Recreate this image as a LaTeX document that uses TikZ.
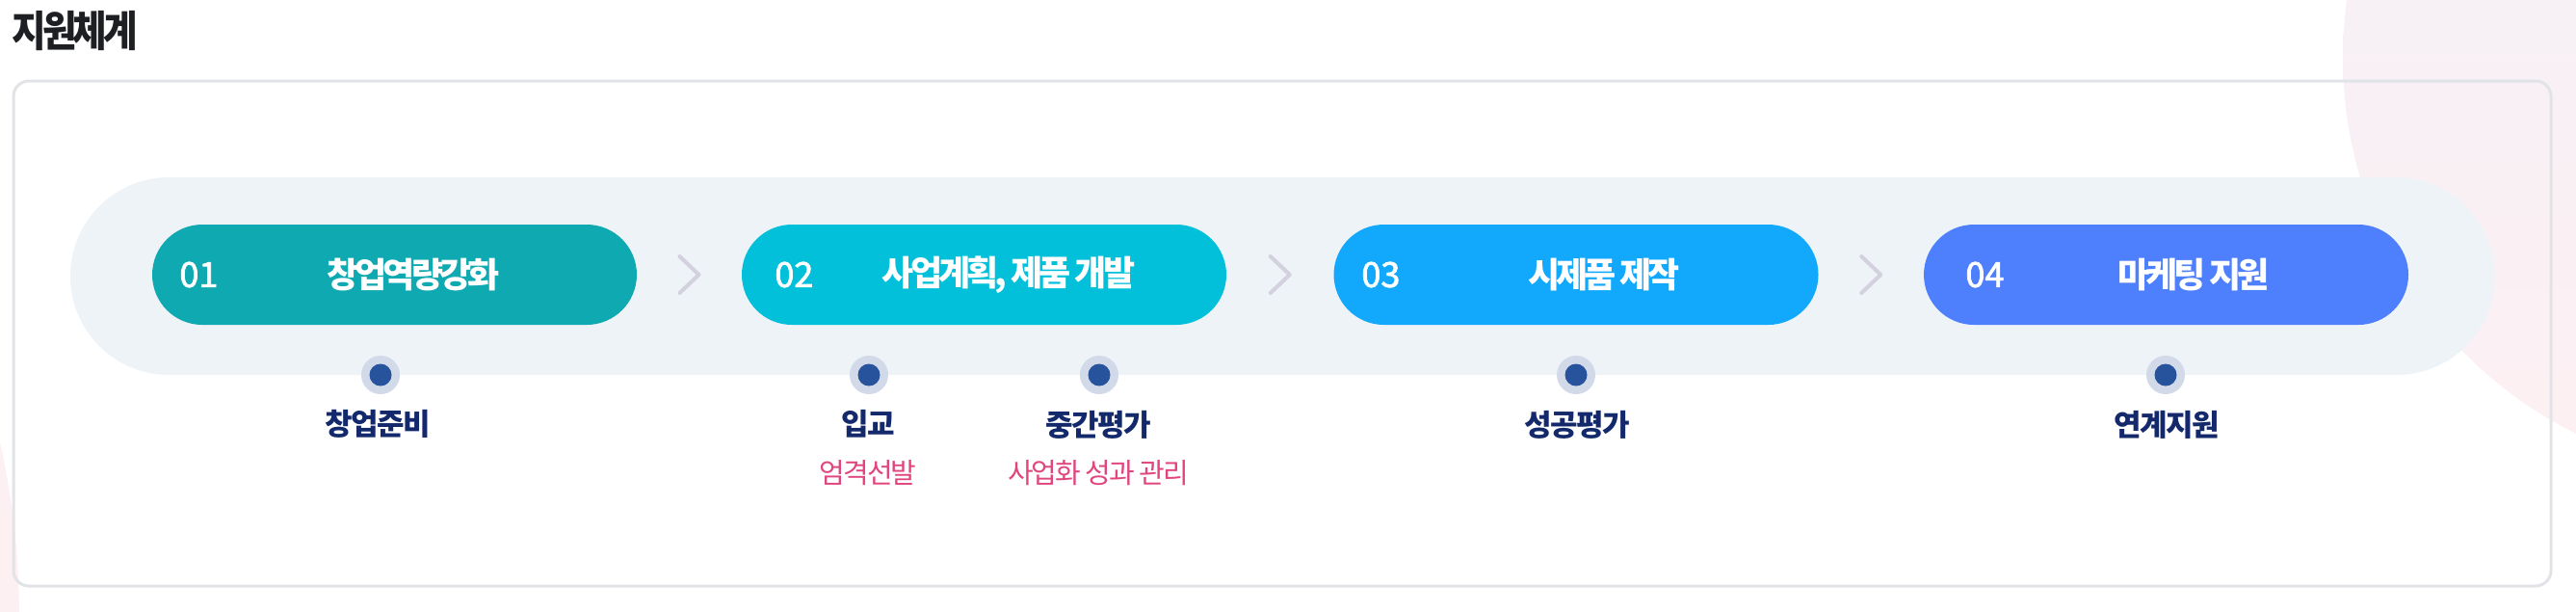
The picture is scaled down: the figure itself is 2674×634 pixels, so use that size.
\documentclass[tikz,border=0pt]{standalone}
\usepackage{fontspec}
\setmainfont{Noto Sans CJK KR}
\usetikzlibrary{calc}
\definecolor{titlec}{HTML}{1E1F23}
\definecolor{boxline}{HTML}{E1E3E6}
\definecolor{bandc}{HTML}{EEF3F8}
\definecolor{pA}{HTML}{0FA9B2}
\definecolor{pB}{HTML}{03C0DA}
\definecolor{pC}{HTML}{12A9FD}
\definecolor{pD}{HTML}{4E80FD}
\definecolor{chevc}{HTML}{D2D1DD}
\definecolor{ringc}{HTML}{D2DAEA}
\definecolor{dotc}{HTML}{27529C}
\definecolor{navyc}{HTML}{14296B}
\definecolor{pinkc}{HTML}{E0457D}
\definecolor{lavc}{HTML}{F2F1F7}
\definecolor{rosec}{HTML}{FDF0F3}
\newcommand\fTitle{\fontsize{22pt}{25pt}\selectfont\bfseries\addfontfeature{FakeStretch=0.88,LetterSpace=-9}}
\newcommand\fPill{\fontsize{18pt}{21pt}\selectfont\bfseries\addfontfeature{LetterSpace=-11}}
\newcommand\fNum{\fontsize{18pt}{21pt}\selectfont\addfontfeature{FakeBold=2}}
\newcommand\fLbl{\fontsize{15.5pt}{18pt}\selectfont\bfseries\addfontfeature{LetterSpace=-5}}
\newcommand\fSub{\fontsize{14.5pt}{17pt}\selectfont\addfontfeature{LetterSpace=-7}}
\tikzset{
  pill/.style={rectangle, rounded corners=26pt, minimum width=251.5pt, minimum height=52pt, inner sep=0pt, draw=none},
  pillnum/.style={anchor=west, inner sep=0pt, text=white, font=\fNum},
  pilltxt/.style={inner sep=0pt, text=white, font=\fPill},
  ringdot/.style={circle, fill=ringc, minimum size=20pt, inner sep=0pt},
  coredot/.style={circle, fill=dotc, minimum size=11.5pt, inner sep=0pt},
  lbl/.style={inner sep=0pt, text=navyc, font=\fLbl},
  sublbl/.style={inner sep=0pt, text=pinkc, font=\fSub},
  chev/.style={draw=chevc, line width=2pt, line cap=round, line join=round},
}
\begin{document}
\begin{tikzpicture}[x=0.5pt,y=-0.5pt]
\useasboundingbox (0,0) rectangle (2674,634);
\fill[white] (0,0) rectangle (2674,634);
% background decorations
\begin{scope}
\clip (0,0) rectangle (2674,634);
\shade[top color=lavc, bottom color=rosec] (2867,60) circle (435);
\fill[rosec] (-800,640) circle (820);
\end{scope}
% title
\node[anchor=west, inner sep=0pt, text=titlec, font=\fTitle] (title) at (12,32) {지원체계};
% outer box
\draw[boxline, line width=1.5pt, rounded corners=8pt] (14,84) rectangle (2648,608);
% band
\fill[bandc, rounded corners=51.25pt] (73,184) rectangle (2590,389);
% pills
\node[pill, fill=pA] (p1) at (409.5,285) {};
\node[pill, fill=pB] (p2) at (1021.5,285) {};
\node[pill, fill=pC] (p3) at (1636,285) {};
\node[pill, fill=pD] (p4) at (2248.5,285) {};
\node[pillnum] (n1) at (186,285) {01};
\node[pillnum] (n2) at (804,285) {02};
\node[pillnum] (n3) at (1413,285) {03};
\node[pillnum] (n4) at (2040,285) {04};
\node[pilltxt] (t1) at (429,285) {창업역량강화};
\node[pilltxt] (t2) at (1047,285) {사업계획, 제품 개발};
\node[pilltxt] (t3) at (1665,285) {시제품 제작};
\node[pilltxt] (t4) at (2277,285) {마케팅 지원};
% chevrons
\path (p1.east) -- (p2.west) coordinate[midway] (m12);
\path (p2.east) -- (p3.west) coordinate[midway] (m23);
\path (p3.east) -- (p4.west) coordinate[midway] (m34);
\draw[chev] ($(m12)+(-10,-19)$) -- ++(20,19) -- ++(-20,19);
\draw[chev] ($(m23)+(-10,-19)$) -- ++(20,19) -- ++(-20,19);
\draw[chev] ($(m34)+(-10,-19)$) -- ++(20,19) -- ++(-20,19);
% dots
\node[ringdot] (d1) at (395,389) {};
\node[ringdot] (d2) at (902,389) {};
\node[ringdot] (d3) at (1141,389) {};
\node[ringdot] (d4) at (1636,389) {};
\node[ringdot] (d5) at (2248,389) {};
\foreach \d in {d1,d2,d3,d4,d5} \node[coredot] at (\d) {};
% labels
\node[lbl] (l1) at (392,440) {창업준비};
\node[lbl] (l2) at (901,440) {입교};
\node[lbl] (l3) at (1140,441) {중간평가};
\node[lbl] (l4) at (1637,441) {성공평가};
\node[lbl] (l5) at (2249,441) {연계지원};
\node[sublbl] (s2) at (901,491) {엄격선발};
\node[sublbl] (s3) at (1140,491) {사업화 성과 관리};
\end{tikzpicture}
\end{document}
